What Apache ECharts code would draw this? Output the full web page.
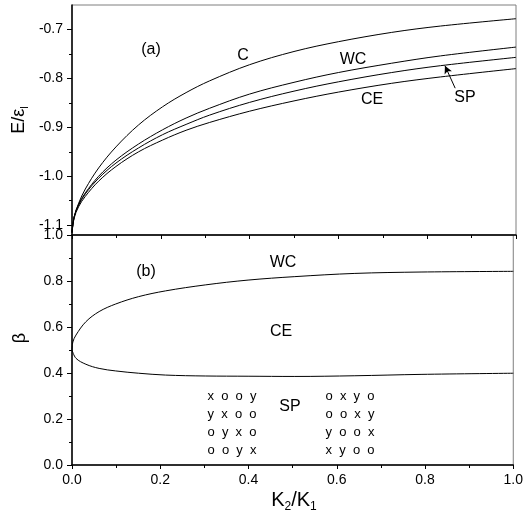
<!DOCTYPE html>
<html><head><meta charset="utf-8">
<script src="https://cdn.jsdelivr.net/npm/echarts@6/dist/echarts.min.js"></script>
<style>html,body{margin:0;padding:0;background:#fff}#c{width:526px;height:527px}</style>
</head><body><div id="c"></div>
<script>
// ---- data ----
const xTop = [0, 0.005, 0.015, 0.03, 0.06, 0.099, 0.15, 0.204, 0.257, 0.31, 0.4, 0.5, 0.6, 0.72, 0.83, 1.0];
const eC  = [-1.115, -1.083, -1.055, -1.026, -0.983, -0.940, -0.895, -0.858, -0.829, -0.805, -0.772, -0.745, -0.725, -0.706, -0.693, -0.678];
const eWC = [-1.115, -1.082, -1.057, -1.034, -1.000, -0.967, -0.934, -0.905, -0.881, -0.861, -0.832, -0.808, -0.788, -0.769, -0.754, -0.736];
const eSP = [-1.115, -1.082, -1.059, -1.036, -1.004, -0.973, -0.942, -0.915, -0.894, -0.875, -0.849, -0.826, -0.807, -0.788, -0.774, -0.757];
const eCE = [-1.115, -1.085, -1.062, -1.041, -1.010, -0.980, -0.950, -0.926, -0.906, -0.890, -0.867, -0.846, -0.828, -0.810, -0.797, -0.780];

const xUpper = [0, 0.002, 0.009, 0.0315, 0.0615, 0.099, 0.151, 0.212, 0.302, 0.399, 0.505, 0.641, 0.791, 1.0];
const betaUpper = [0.5, 0.535, 0.565, 0.623, 0.667, 0.700, 0.732, 0.757, 0.783, 0.804, 0.819, 0.833, 0.839, 0.842];
const xLower = [0, 0.009, 0.0315, 0.0615, 0.099, 0.151, 0.212, 0.302, 0.399, 0.505, 0.641, 0.791, 1.0];
const betaLower = [0.5, 0.464, 0.438, 0.420, 0.409, 0.399, 0.391, 0.387, 0.386, 0.385, 0.388, 0.394, 0.399];

const eTicks = [-1.1, -1.0, -0.9, -0.8, -0.7];
const eMinorTicks = [-1.05, -0.95, -0.85, -0.75];
const arrowSP = [[0.863, -0.820], [0.840, -0.774]];

const matrixLeft = ['x  o  o  y', 'y  x  o  o', 'o  y  x  o', 'o  o  y  x'];
const matrixRight = ['o  x  y  o', 'o  o  x  y', 'y  o  o  x', 'x  y  o  o'];

// ---- chart ----
const FONT = '"Liberation Sans", Arial, sans-serif';
const chart = echarts.init(document.getElementById('c'), null, {renderer: 'canvas'});
const pair = (xs, ys) => xs.map((x, i) => [x, ys[i]]);
const lineS = (name, xs, ys, xi, yi) => ({
  name, type: 'line', xAxisIndex: xi, yAxisIndex: yi, data: pair(xs, ys),
  smooth: 0.35, symbol: 'none', lineStyle: {color: '#000', width: 1}, silent: true
});
const axLine = {show: true, lineStyle: {color: '#000', width: 1.5}};
const lbl = {color: '#000', fontSize: 14, fontFamily: FONT};
function txt(x, y, text, size) {
  return {type: 'text', x, y, silent: true, style: {text, font: size + 'px ' + FONT, fill: '#000',
    align: 'center', verticalAlign: 'middle', textAlign: 'center', textVerticalAlign: 'middle'}};
}
function block(x, y, lines) {
  return {type: 'text', x, y, silent: true, style: {text: lines.join('\n'), font: '13px ' + FONT, fill: '#000',
    lineHeight: 18, align: 'center', verticalAlign: 'middle', textAlign: 'center', textVerticalAlign: 'middle'}};
}

const spSeries = lineS('SP', xTop, eSP, 0, 0);
spSeries.markLine = {
  silent: true, symbol: ['none', 'arrow'], symbolSize: [6, 8],
  lineStyle: {color: '#000', width: 1, type: 'solid'}, label: {show: false},
  data: [[{coord: arrowSP[0]}, {coord: arrowSP[1]}]]
};

chart.setOption({
  animation: false,
  backgroundColor: '#fff',
  grid: [
    {left: 72, top: 5, width: 444, height: 230, show: true, borderColor: '#7f7f7f', borderWidth: 1},
    {left: 72, top: 235, width: 444, height: 230, show: true, borderColor: '#7f7f7f', borderWidth: 1}
  ],
  xAxis: [
    {gridIndex: 0, type: 'value', min: 0, max: 1, interval: 0.2, axisLine: axLine,
     axisTick: {show: true, length: 4, lineStyle: {color: '#000'}},
     minorTick: {show: true, splitNumber: 2, length: 3, lineStyle: {color: '#000'}},
     axisLabel: {show: false}, splitLine: {show: false}},
    {gridIndex: 1, type: 'value', min: 0, max: 1, interval: 0.2, axisLine: axLine,
     axisTick: {show: true, length: 4, lineStyle: {color: '#000'}},
     minorTick: {show: true, splitNumber: 2, length: 3, lineStyle: {color: '#000'}},
     axisLabel: Object.assign({margin: 8, formatter: v => v.toFixed(1)}, lbl), splitLine: {show: false}}
  ],
  yAxis: [
    {gridIndex: 0, type: 'value', min: -1.12, max: -0.65, axisLine: axLine,
     axisTick: {show: true, length: 5, customValues: eTicks, lineStyle: {color: '#000'}},
     axisLabel: Object.assign({margin: 9, customValues: eTicks, formatter: v => v.toFixed(1)}, lbl),
     splitLine: {show: false}},
    {gridIndex: 0, type: 'value', min: -1.12, max: -0.65, position: 'left', axisLine: {show: false},
     axisTick: {show: true, length: 3, customValues: eMinorTicks, lineStyle: {color: '#000'}},
     axisLabel: {show: false}, splitLine: {show: false}},
    {gridIndex: 1, type: 'value', min: 0, max: 1, interval: 0.2, axisLine: axLine,
     axisTick: {show: true, length: 5, lineStyle: {color: '#000'}},
     minorTick: {show: true, splitNumber: 2, length: 3, lineStyle: {color: '#000'}},
     axisLabel: Object.assign({margin: 9, formatter: v => v.toFixed(1)}, lbl), splitLine: {show: false}}
  ],
  series: [
    lineS('C', xTop, eC, 0, 0),
    lineS('WC', xTop, eWC, 0, 0),
    spSeries,
    lineS('CE', xTop, eCE, 0, 0),
    lineS('upper', xUpper, betaUpper, 1, 2),
    lineS('lower', xLower, betaLower, 1, 2)
  ],
  graphic: [
    txt(151, 50, '(a)', 16), txt(243, 56, 'C', 16), txt(353, 60, 'WC', 16),
    txt(372, 100, 'CE', 16), txt(465, 98, 'SP', 16),
    txt(146, 272, '(b)', 16), txt(283, 263, 'WC', 16), txt(281, 332, 'CE', 16), txt(290, 407, 'SP', 16),
    block(232, 423, matrixLeft), block(350, 423, matrixRight),
    {type: 'text', x: 19, y: 120, rotation: Math.PI / 2, silent: true,
     style: {text: '{m|E/ε}{s|l}', align: 'center', verticalAlign: 'middle', textAlign: 'center', textVerticalAlign: 'middle',
       rich: {m: {fontSize: 18, fontFamily: FONT, color: '#000', lineHeight: 22, verticalAlign: 'middle'},
              s: {fontSize: 11, fontFamily: FONT, color: '#000', lineHeight: 22, verticalAlign: 'bottom'}}}},
    {type: 'text', x: 20, y: 338, rotation: Math.PI / 2, silent: true,
     style: {text: 'β', font: '18px ' + FONT, fill: '#000', align: 'center', verticalAlign: 'middle', textAlign: 'center', textVerticalAlign: 'middle'}},
    {type: 'text', x: 294, y: 500, silent: true,
     style: {text: '{m|K}{s|2}{m|/K}{s|1}', align: 'center', verticalAlign: 'middle', textAlign: 'center', textVerticalAlign: 'middle',
       rich: {m: {fontSize: 20, fontFamily: FONT, color: '#000', lineHeight: 26, verticalAlign: 'middle'},
              s: {fontSize: 12, fontFamily: FONT, color: '#000', lineHeight: 26, verticalAlign: 'bottom'}}}}
  ]
});
</script></body></html>
